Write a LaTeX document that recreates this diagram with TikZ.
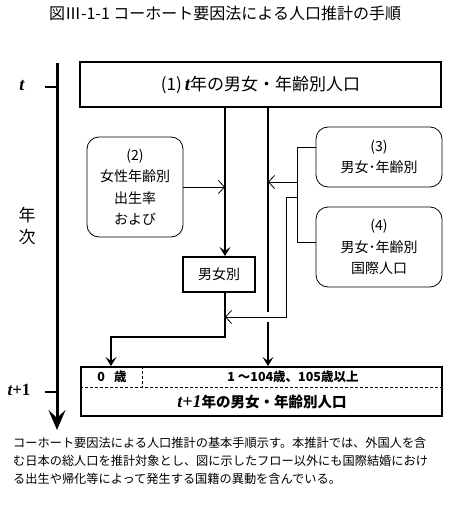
\documentclass[tikz,border=0pt]{standalone}
\usepackage{fontspec}
\setmainfont{Noto Sans CJK JP}
\newfontfamily\tfont{Liberation Serif}
\usetikzlibrary{calc, arrows.meta}

\newcommand{\tvar}[1]{{\tfont\bfseries\itshape #1}}

\begin{document}
\begin{tikzpicture}[x=1pt, y=-1pt,
            box/.style={draw, line width=2pt, minimum width=361pt, inner sep=0pt},
            rbox/.style={draw, rounded corners=12pt, line width=0.8pt, minimum width=126pt, inner sep=0pt, align=center, font=\fontsize{14}{21.5}\selectfont},
            flow/.style={line width=2.4pt, -{Stealth[length=9pt, width=11pt, inset=4pt]}},
            feed/.style={line width=0.8pt, -{Straight Barb[length=6pt, width=13pt]}},
            link/.style={line width=0.8pt}]
            \useasboundingbox (0,0) rectangle (452,505);
            \node[font=\fontsize{16}{16}\selectfont] (title) at (225,13) {図Ⅲ-1-1 コーホート要因法による人口推計の手順};
            \coordinate (top) at (57,63);
            \coordinate (end) at (57,430);
            \draw[line width=3pt, -{Stealth[length=20pt, width=17pt, inset=8pt]}] (top) -- (end);
            \coordinate (tick) at (45,87);
            \coordinate (tick1) at (45,392);
            \draw[line width=2pt] (tick) -- (tick -| top);
            \draw[line width=2pt] (tick1) -- (tick1 -| top);
            \node[font=\fontsize{18}{18}\selectfont] (t) at (22,86) {\tvar{t}};
            \node[font=\fontsize{17}{17}\selectfont\bfseries] (t1) at (19,390) {\tvar{t}{\tfont+1}};
            \node[font=\fontsize{17}{17}\selectfont] (nen) at (27,215) {年};
            \node[font=\fontsize{17}{17}\selectfont] (ji) at (27,237) {次};
            \node[box, minimum height=45pt, font=\fontsize{17}{17}\selectfont] (pop) at (260.5,84.5) {(1)\hspace{3pt}{\fontsize{19}{19}\selectfont\tvar{t}}年の男女・年齢別人口};
            \node[rbox, minimum width=96pt, minimum height=100pt] (fert) at (135,187) {(2)\\女性年齢別\\出生率\\および};
            \node[rbox, minimum height=60pt] (mig3) at (379,157) {(3)\\男女･年齢別};
            \node[rbox, minimum height=80pt] (mig4) at (379,247) {(4)\\男女･年齢別\\国際人口};
            \node[draw, line width=2pt, minimum width=72pt, minimum height=35pt, font=\fontsize{14}{14}\selectfont] (sex) at (219,274.5) {男女別};
            \node[box, minimum height=49pt] (next) at (261.5,391.5) {};
            \coordinate (c1) at (225,0);
            \coordinate (c2) at (268,0);
            \coordinate (c3) at (297,0);
            \coordinate (c4) at (286,0);
            \coordinate (c5) at (111,0);
            \coordinate (cell) at (142,0);
            \coordinate (row) at (0,387);
            \coordinate (r3) at (0,147);
            \coordinate (r4) at (0,242);
            \coordinate (rin) at (0,182);
            \coordinate (rout) at (0,197);
            \coordinate (rback) at (0,317);
            \coordinate (rdown) at (0,337);
            \draw[flow] (pop.south -| c1) -- (sex.north -| c1);
            \draw[feed] (fert.east) -- (fert.east -| c1);
            \draw[line width=2.4pt] (pop.south -| c2) -- ($(c2 |- rback)+(0,-5)$);
            \draw[flow] ($(c2 |- rback)+(0,5)$) -- (next.north -| c2);
            \draw[link] (mig3.west |- r3) -- (c3 |- r3) -- (c3 |- r4) -- (mig4.west |- r4);
            \draw[feed] (c3 |- rin) -- (c2 |- rin);
            \draw[link, -{Straight Barb[length=6pt, width=13pt]}] (c3 |- rout) -- (c4 |- rout) -- (c4 |- rback) -- (c1 |- rback);
            \draw[flow] (sex.south -| c1) -- (c1 |- rdown) -- (c5 |- rdown) -- (next.north -| c5);
            \draw[line width=0.8pt, dash pattern=on 3pt off 2pt] (next.west |- row) -- (next.east |- row);
            \draw[line width=0.8pt, dash pattern=on 3pt off 2pt] (next.north -| cell) -- (cell |- row);
            \node[font=\fontsize{12.5}{12.5}\selectfont\bfseries] (age0) at (112,377) {0\hspace{9pt}歳};
            \node[font=\fontsize{12.5}{12.5}\selectfont\bfseries] (ages) at (293,377) {1 ～104歳、105歳以上};
            \node[font=\fontsize{14.5}{14.5}\selectfont\bfseries] (nextpop) at (262,402) {{\fontsize{18}{18}\selectfont\tvar{t+1}}年の男女・年齢別人口};
            \node[anchor=north west, align=left, inner sep=0pt, font=\fontsize{12.2}{18}\selectfont] (note) at (13,437) {コーホート要因法による人口推計の基本手順示す。本推計では、外国人を含\\む日本の総人口を推計対象とし、図に示したフロー以外にも国際結婚におけ\\る出生や帰化等によって発生する国籍の異動を含んでいる。};
\end{tikzpicture}
\end{document}
